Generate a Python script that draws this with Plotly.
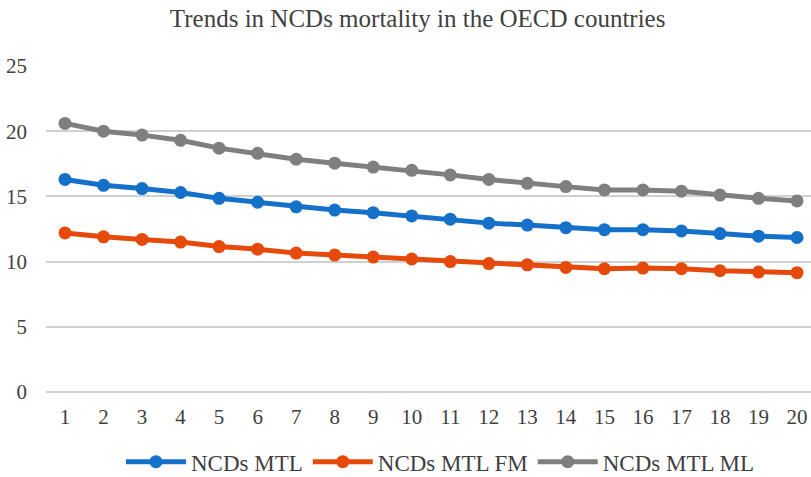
import plotly.graph_objects as go

years = list(range(1, 21))
ncds_mtl = [16.3, 15.85, 15.6, 15.3, 14.85, 14.55, 14.2, 13.95, 13.75, 13.5,
            13.25, 12.95, 12.8, 12.6, 12.45, 12.45, 12.35, 12.15, 11.95, 11.85]
ncds_mtl_fm = [12.2, 11.9, 11.7, 11.5, 11.15, 10.95, 10.65, 10.5, 10.35, 10.2,
               10.0, 9.85, 9.75, 9.55, 9.45, 9.5, 9.45, 9.3, 9.2, 9.15]
ncds_mtl_ml = [20.6, 20.0, 19.7, 19.3, 18.7, 18.3, 17.85, 17.55, 17.25, 17.0,
               16.65, 16.3, 16.0, 15.75, 15.5, 15.5, 15.4, 15.1, 14.85, 14.65]

series = [
    ("NCDs MTL", ncds_mtl, "#1470C8"),
    ("NCDs MTL FM", ncds_mtl_fm, "#E64A0A"),
    ("NCDs MTL ML", ncds_mtl_ml, "#7F7F7F"),
]

FONT = "Liberation Serif"

fig = go.Figure()
for name, vals, color in series:
    fig.add_trace(go.Scatter(
        x=years, y=vals, name=name, mode="lines+markers",
        line=dict(color=color, width=5),
        marker=dict(color=color, size=13),
    ))

fig.update_layout(
    width=811, height=477,
    plot_bgcolor="white", paper_bgcolor="white",
    margin=dict(l=46, r=0, t=66, b=85, autoexpand=False),
    font=dict(family=FONT, color="#404040", size=21),
    title=dict(text="Trends in NCDs mortality in the OECD countries",
               x=0.515, xanchor="center", y=0.962, yanchor="middle",
               yref="container",
               font=dict(family=FONT, size=25, color="#404040")),
    legend=dict(orientation="h", x=0.515, xanchor="center", y=-0.214,
                yanchor="middle", font=dict(family=FONT, size=23, color="#404040"),
                itemwidth=60, tracegroupgap=0),
    showlegend=True,
)
fig.update_xaxes(range=[0.507, 20.363], tickvals=years, showgrid=False,
                 zeroline=False, showline=False, ticks="",
                 ticklabelstandoff=10, tickfont=dict(size=21))
fig.update_yaxes(range=[0, 25], dtick=5, showgrid=True, gridcolor="#D0D0D0",
                 gridwidth=1.5, zeroline=True, zerolinecolor="#D0D0D0",
                 zerolinewidth=1.5, showline=False, ticks="",
                 ticklabelstandoff=18, tickfont=dict(size=21))

fig.write_html("out.html", config={"displayModeBar": False},
               post_script="document.body.style.margin='0px';")
